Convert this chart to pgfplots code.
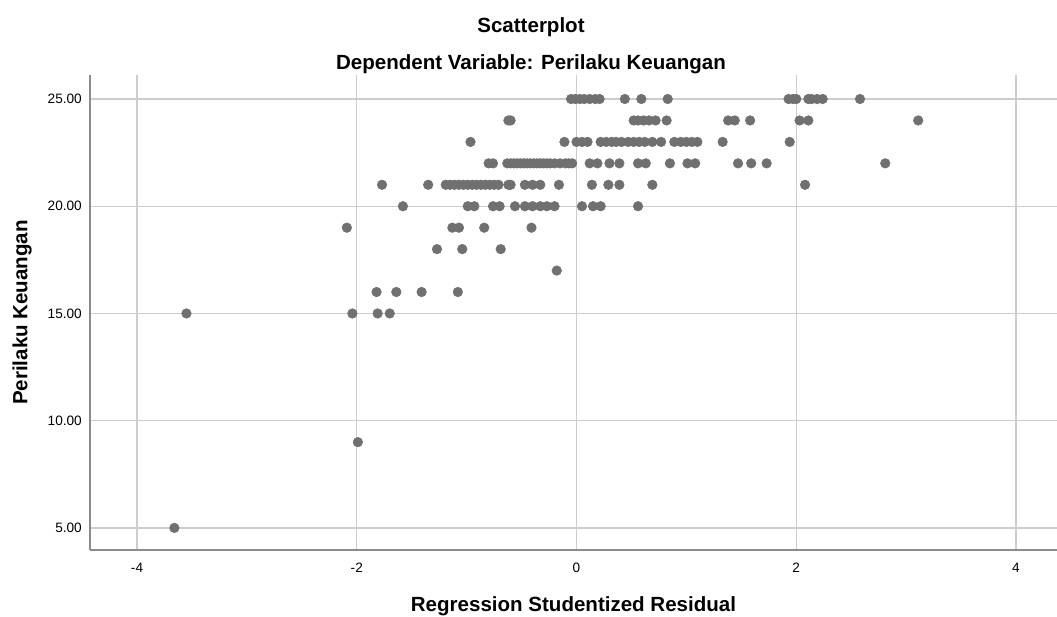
\documentclass[border=0pt]{standalone}
\usepackage{pgfplots}
\pgfplotsset{compat=1.18}
\usepackage{fontspec}
\setmainfont{Liberation Sans}
\definecolor{dotgray}{RGB}{112,112,112}
\definecolor{gridgray}{RGB}{205,205,205}
\definecolor{axisgray}{RGB}{140,140,140}
\begin{document}
\begin{tikzpicture}[x=1pt,y=1pt]
\useasboundingbox (-67.5,-50.25) rectangle (725.25,412.5);
\begin{axis}[
  at={(0,0)}, anchor=south west,
  scale only axis, width=725.25pt, height=356.25pt,
  xmin=-4.428, xmax=4.373, ymin=3.97, ymax=26.12,
  axis x line*=bottom, axis y line*=left,
  axis line style={-, draw=axisgray, line width=1pt},
  xtick={-4,-2,0,2,4}, ytick={5,10,15,20,25},
  major tick length=0pt,
  grid=major, major grid style={draw=gridgray, line width=1pt},
  /pgf/number format/assume math mode=true,
  ticklabel style={font=\fontsize{10.2}{12}\selectfont, inner sep=0pt},
  xticklabel style={anchor=center, yshift=-13.5pt},
  yticklabel style={anchor=east, xshift=-6pt, /pgf/number format/fixed, /pgf/number format/fixed zerofill, /pgf/number format/precision=2},
  xlabel={\bfseries Regression Studentized Residual},
  ylabel={\bfseries Perilaku Keuangan},
  label style={font=\fontsize{15.4}{18}\selectfont},
  xlabel style={at={(axis description cs:0.5,0)}, anchor=center, yshift=-42pt},
  ylabel style={at={(axis description cs:0,0.5)}, anchor=center, rotate=0, yshift=51pt},
  clip=false,
]
\addplot[only marks, mark=*, mark size=3.6pt, mark options={fill=dotgray, draw=dotgray}] coordinates {
(-0.05,25) (-0.01,25) (0.03,25) (0.07,25) (0.12,25) (0.17,25) (0.21,25) (0.44,25) (0.59,25) (0.83,25)
(1.93,25) (1.97,25) (2.00,25) (2.11,25) (2.14,25) (2.19,25) (2.24,25) (2.58,25)
(-0.62,24) (-0.60,24) (0.52,24) (0.56,24) (0.61,24) (0.66,24) (0.72,24) (0.82,24) (1.38,24) (1.44,24) (1.58,24) (2.03,24) (2.11,24) (3.11,24)
(-0.965,23) (-0.11,23) (0.00,23) (0.05,23) (0.10,23) (0.22,23) (0.27,23) (0.32,23) (0.36,23) (0.41,23) (0.47,23) (0.52,23) (0.57,23) (0.62,23) (0.69,23) (0.77,23) (0.89,23) (0.95,23) (1.00,23) (1.05,23) (1.10,23) (1.33,23) (1.94,23)
(-0.80,22) (-0.76,22) (-0.63,22) (-0.60,22) (-0.57,22) (-0.54,22) (-0.51,22) (-0.48,22) (-0.45,22) (-0.42,22) (-0.39,22) (-0.36,22) (-0.33,22) (-0.30,22) (-0.27,22) (-0.24,22) (-0.20,22) (-0.15,22) (-0.10,22) (-0.07,22) (-0.04,22)
(0.12,22) (0.19,22) (0.30,22) (0.39,22) (0.56,22) (0.63,22) (0.85,22) (1.01,22) (1.08,22) (1.47,22) (1.59,22) (1.73,22) (2.81,22)
(-1.77,21) (-1.35,21) (-1.19,21) (-1.15,21) (-1.11,21) (-1.07,21) (-1.03,21) (-0.99,21) (-0.95,21) (-0.91,21) (-0.87,21) (-0.83,21) (-0.79,21) (-0.75,21) (-0.71,21)
(-0.62,21) (-0.60,21) (-0.47,21) (-0.40,21) (-0.33,21) (-0.16,21) (0.14,21) (0.29,21) (0.39,21) (0.69,21) (2.08,21)
(-1.58,20) (-0.99,20) (-0.93,20) (-0.76,20) (-0.70,20) (-0.56,20) (-0.47,20) (-0.40,20) (-0.33,20) (-0.27,20) (-0.20,20) (0.05,20) (0.15,20) (0.22,20) (0.56,20)
(-2.09,19) (-1.13,19) (-1.07,19) (-0.84,19) (-0.41,19)
(-1.27,18) (-1.04,18) (-0.69,18)
(-0.18,17)
(-1.82,16) (-1.64,16) (-1.41,16) (-1.08,16)
(-3.55,15) (-2.04,15) (-1.81,15) (-1.70,15)
(-1.99,9)
(-3.66,5)
};
\end{axis}
\node[font=\fontsize{15.4}{18}\selectfont\bfseries, anchor=center] at (330.75,392) {Scatterplot};
\node[font=\fontsize{15.4}{18}\selectfont\bfseries, anchor=center] at (330.75,364.5) {Dependent Variable: Perilaku Keuangan};
\end{tikzpicture}
\end{document}
